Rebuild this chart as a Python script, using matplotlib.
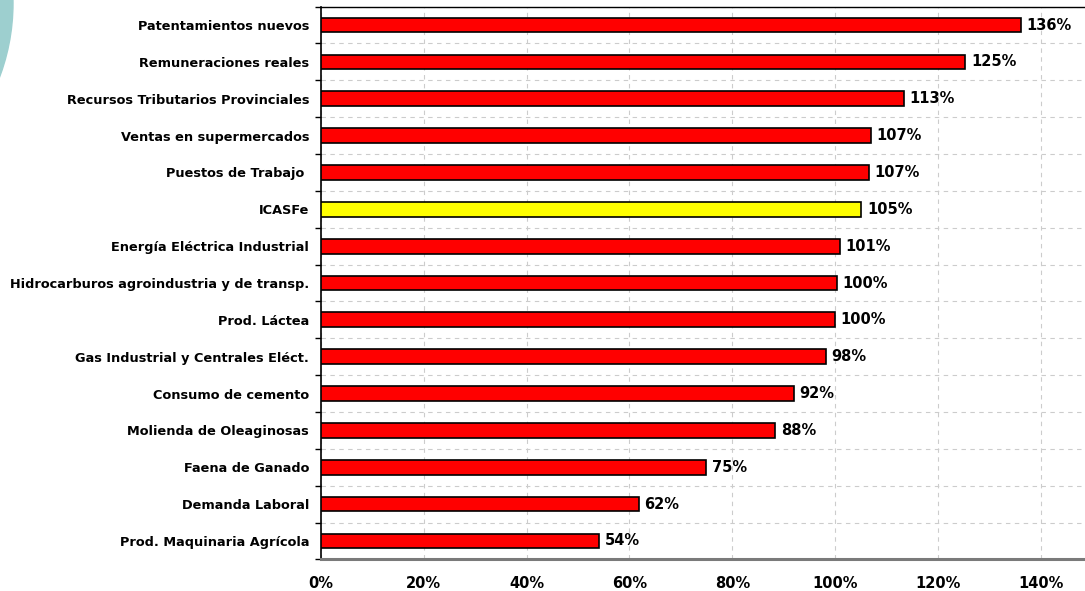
import matplotlib
matplotlib.use('Agg')
import matplotlib.pyplot as plt
from matplotlib.patches import Ellipse

# data (top to bottom)
labels = ['Patentamientos nuevos', 'Remuneraciones reales', 'Recursos Tributarios Provinciales',
          'Ventas en supermercados', 'Puestos de Trabajo ', 'ICASFe', 'Energía Eléctrica Industrial',
          'Hidrocarburos agroindustria y de transp.', 'Prod. Láctea', 'Gas Industrial y Centrales Eléct.',
          'Consumo de cemento', 'Molienda de Oleaginosas', 'Faena de Ganado', 'Demanda Laboral',
          'Prod. Maquinaria Agrícola']
values = [136.1, 125.3, 113.3, 106.9, 106.6, 105.1, 100.9, 100.3, 99.9, 98.2, 92.0, 88.3, 74.9, 61.8, 54.1]
highlight = 'ICASFe'
xticks = [0, 20, 40, 60, 80, 100, 120, 140]

W, H = 1085, 591
fig = plt.figure(figsize=(W / 100, H / 100), dpi=100)
ax = fig.add_axes([321 / W, 1 - 559.4 / H, 1 - 321 / W, (559.4 - 6.6) / H])

# teal decoration in the corner
fig.add_artist(Ellipse((-198 / W, 1 - 3 / H), 2 * 211 / W, 2 * 211 / H,
                       transform=fig.transFigure, color='#9dcfcf', zorder=0))

ypos = list(range(len(labels)))[::-1]
colors = ['#ffff00' if l == highlight else '#ff0000' for l in labels]
ax.barh(ypos, values, height=0.4, color=colors, edgecolor='black', linewidth=1.2, zorder=3)

for y, v in zip(ypos, values):
    ax.text(v + 1.1, y, f'{round(v):d}%', va='center', ha='left', fontsize=10.5,
            fontweight='bold', zorder=4)

ax.set_xlim(0, 148.6)
ax.set_ylim(-0.5, len(labels) - 0.5)
ax.set_yticks(ypos)
ax.set_yticklabels(labels, fontsize=9.3, fontweight='bold')
ax.set_yticks([i + 0.5 for i in range(-1, len(labels))], minor=True)
ax.tick_params(axis='y', which='major', length=0, pad=8.5)
ax.tick_params(axis='y', which='minor', length=4, width=1, direction='out')
ax.set_xticks(xticks)
ax.set_xticklabels([f'{t}%' for t in xticks], fontsize=10.5, fontweight='bold')
ax.tick_params(axis='x', length=0, pad=12)

ax.grid(axis='x', which='major', linestyle=(0, (4, 4)), color='#cccccc', linewidth=0.8, zorder=0)
ax.grid(axis='y', which='minor', linestyle=(0, (4, 4)), color='#cccccc', linewidth=0.8, zorder=0)
ax.grid(axis='y', which='major', visible=False)

ax.spines['left'].set_color('black')
ax.spines['left'].set_linewidth(1.2)
ax.spines['top'].set_color('black')
ax.spines['top'].set_linewidth(1.0)
ax.spines['bottom'].set_color('#7a7a7a')
ax.spines['bottom'].set_linewidth(2.2)
ax.spines['right'].set_visible(False)

fig.savefig('out.png', dpi=100)
